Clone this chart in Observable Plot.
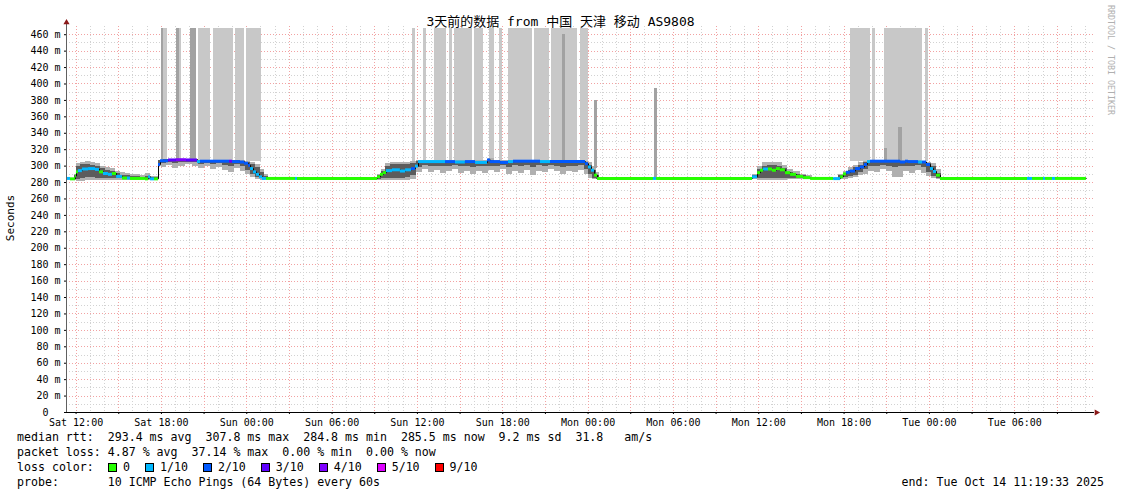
<!DOCTYPE html>
<html><head><meta charset="utf-8">
<script src="https://cdn.jsdelivr.net/npm/d3@7"></script>
<script src="https://cdn.jsdelivr.net/npm/@observablehq/plot@0.6"></script>
<style>
body{margin:0;background:#fff;}
#wrap{position:relative;width:1121px;height:494px;overflow:hidden;background:#fff;font-family:"DejaVu Sans Mono","Noto Sans CJK SC",monospace;}
#chart{position:absolute;left:0;top:0;}
.t{position:absolute;white-space:pre;line-height:1;color:#000;}
.leg{font-size:11.6px;left:17px;}
.sq{display:inline-block;box-sizing:border-box;width:9px;height:9px;border:1px solid #000;vertical-align:-1px;margin-right:6px;}
.item{display:inline-block;padding-right:15px;}
</style></head><body><div id="wrap"><div id="chart"></div></div>
<script>
// ---------- data ----------
const chartTitle = "3天前的数据 from 中国 天津 移动 AS9808";
const yLabel = "Seconds";
const watermark = "RRDTOOL / TOBI OETIKER";
const chartStartParts = [2025, 9, 11, 11, 19, 33]; // Sat Oct 11 2025 11:19:33
const chartEndParts = [2025, 9, 14, 11, 19, 33];   // Tue Oct 14 2025 11:19:33
const dataEndHour = 71.71;
const yMax = 470;
const highTop = 468;

const lossColors = ["#26ff00", "#00b8ff", "#0059ff", "#5e00ff", "#7e00ff", "#dd00ff", "#ff0000"];
const lossLabels = ["0", "1/10", "2/10", "3/10", "4/10", "5/10", "9/10"];

// median rtt: [hours since start, ms, loss class]
const medianRtt = [
 [0.00,285,1],[0.28,284.5,0],[0.63,288,0],[0.70,293,0],[0.84,294.5,1],[1.12,296.5,1],[1.55,297,1],
 [2.04,296,1],[2.32,293,0],[2.60,291,1],[2.95,290,1],[3.23,291,0],[3.52,287.5,1],[3.94,285.5,0],
 [4.29,285.5,1],[4.50,285,0],[5.55,284.5,0],[5.77,287,1],[5.91,284.5,1],[6.19,284.5,0],
 [6.47,302,2],[6.61,306.5,2],[7.17,307.5,3],[7.73,307.8,4],[8.44,307.5,3],[9.21,305.5,1],[9.42,306,2],
 [11.46,306,3],[11.67,305.5,2],[12.23,305,2],[12.52,303.5,2],[12.80,301,2],[12.94,297,1],[13.15,293,1],
 [13.36,290,1],[13.57,287,1],[13.78,285,1],[14.06,285,0],[16.10,285,1],[16.24,285,0],
 [21.87,287,0],[22.08,290,0],[22.29,292,0],[22.50,294.5,1],[22.92,295.5,1],[23.48,294,1],[23.84,295.5,1],
 [24.26,297,2],[24.54,300,1],[24.75,305.5,1],[26.65,305.5,2],[27.35,305,1],[28.05,305.5,2],[28.76,304.5,1],
 [29.60,307.5,2],[29.81,305.5,2],[30.52,304.5,2],[31.08,305.5,1],[31.43,306,2],[33.33,305.5,1],[34.03,305.5,2],
 [36.49,303,2],[36.70,299,1],[36.91,295,1],[37.13,289,0],[37.34,285,0],[41.27,285,1],[41.49,285,0],
 [48.24,287,1],[48.59,292,0],[48.80,295,0],[49.01,296.5,1],[49.36,296.5,0],[49.64,295,0],[49.92,297,0],
 [50.20,295.5,0],[50.55,292,0],[50.91,290,0],[51.33,287.5,0],[51.82,286,0],[52.32,285,0],[53.94,284.8,1],
 [54.43,287,0],[54.63,290.5,0],[54.84,292.5,2],[55.12,294,2],[55.48,297,2],[55.83,299,2],[56.11,302,2],
 [56.32,305.5,1],[56.53,306,2],[58.64,305,2],[58.99,306,2],[59.20,305.5,2],[59.91,305,1],[60.19,305,2],
 [60.47,302,2],[60.75,297,1],[60.96,293.5,1],[61.17,289,0],[61.45,285,0],[67.57,285,1],[67.92,285,0],
 [68.70,285,1],[68.84,285,0],[69.33,285,1],[69.54,285,0]
];

// smoke: [h1, h2, outer lo, outer hi, core lo, core hi]
const smoke = [
 [0.56,0.70,283,290,284,288],[0.70,0.98,281,303,284,299],[0.98,1.34,281,305,285,302],[1.34,1.69,282,306,286,302],
 [1.69,2.04,282,305,286,301],[2.04,2.39,282,303,285,300],[2.39,2.74,283,300,285,297],[2.74,3.09,283,298,285,295],
 [3.09,3.45,283,297,285,294],[3.45,3.80,283,294,285,291],[3.80,4.15,283,292,284.5,289],[4.15,4.50,283,291,284.5,288],
 [4.50,5.20,283,290,284,287],[5.20,5.55,283.5,288,284,286],[5.55,5.91,283,291,284,287],[5.91,6.47,283.5,287,284,286],
 [6.47,6.68,299,307,302,307],[6.68,7.03,298,308,303,308],[7.03,7.45,301,308,304,308],[7.45,7.88,297,308,303,308],
 [7.88,8.37,300,308,304,308],[8.37,8.86,302,308,305,308],[8.86,9.28,300,308,304,308],[9.28,9.70,297,307,302,307],
 [9.70,10.13,299,307,303,307],[10.13,10.55,296,307,302,307],[10.55,10.97,298,307,303,307],[10.97,11.39,295,307,301,307],
 [11.39,11.81,292,307,300,307],[11.81,12.23,297,307,302,307],[12.23,12.59,294,307,300,306],[12.59,12.94,290,306,295,305],
 [12.94,13.29,286,305,290,302],[13.29,13.64,284,302,286,298],[13.64,13.92,283,296,285,292],[13.92,14.20,283.5,290,284,287],
 [21.87,22.15,283,290,284,288],[22.15,22.43,283,296,285,293],[22.43,22.78,283,303,285,300],[22.78,23.13,282.5,305,285,302],
 [23.13,23.48,282.5,305,285,302],[23.48,23.84,283,305,285.5,302],[23.84,24.19,283,305,286,302],[24.19,24.61,284,306,288,303],
 [24.61,25.03,292,307,298,306],[25.03,25.45,296,307,301,306],[25.45,25.87,292,307,299,306],[25.87,26.30,295,307,300,306],
 [26.30,26.72,291,307,299,306],[26.72,27.14,294,307,300,306],[27.14,27.56,296,307,301,306],[27.56,27.98,291,307,299,306],
 [27.98,28.41,293,307,300,306],[28.41,28.83,290,307,298,306],[28.83,29.25,294,307,300,306],[29.25,29.67,291,307,299,306],
 [29.67,30.09,295,309,300,307],[30.09,30.52,292,307,299,306],[30.52,30.94,296,307,301,306],[30.94,31.36,290,307,298,306],
 [31.36,31.78,294,307,301,306],[31.78,32.20,291,307,299,306],[32.20,32.63,295,307,301,306],[32.63,33.05,289,307,298,306],
 [33.05,33.47,294,307,301,306],[33.47,33.89,292,307,300,306],[33.89,34.31,296,307,301,306],[34.31,34.73,293,307,300,306],
 [34.73,35.16,290,307,298,306],[35.16,35.58,294,307,300,306],[35.58,36.00,292,307,300,306],[36.00,36.42,295,307,301,306],
 [36.42,36.70,290,306,296,305],[36.70,36.99,285,304,290,301],[36.99,37.27,283.5,300,285,295],[37.27,37.48,283.5,292,284,288],
 [48.24,48.59,283.5,290,284.5,288],[48.59,48.94,283,300,285,296],[48.94,49.29,283,304,285,300],[49.29,49.64,283,305,285.5,301],
 [49.64,49.99,283,305,285.5,301],[49.99,50.34,283,304,285,300],[50.34,50.70,283,301,285,297],[50.70,51.12,283.5,296,285,292],
 [51.12,51.61,283.5,293,284.5,290],[51.61,52.03,283.5,290,284.5,288],[52.03,52.46,284,288,284.5,286.5],
 [54.28,54.63,284,290,284.5,288],[54.63,54.98,284,294,286,291],[54.98,55.33,285,298,287,295],[55.33,55.69,286,301,289,298],
 [55.69,56.04,288,304,292,301],[56.04,56.39,290,306,296,304],[56.39,56.81,294,307,300,306],[56.81,57.24,292,307,299,306],
 [57.24,57.66,296,307,301,306],[57.66,58.08,293,307,300,306],[58.08,58.50,286.5,307,298,306],[58.50,58.85,286,307,299,306],
 [58.85,59.27,294,307,300,306],[59.27,59.70,291,307,299,306],[59.70,60.12,295,307,301,306],[60.12,60.47,291,306,298,305],
 [60.47,60.82,287,305,292,303],[60.82,61.17,284.5,303,287,299],[61.17,61.52,283.5,296,284.5,291]
];

// pings far above the graph top: [h1, h2]
const highSmoke = [
 [6.68,7.07],[7.70,8.09],[8.72,9.14],[9.28,10.13],[10.34,11.74],[11.88,12.52],[12.69,13.71],
 [24.33,24.54],[25.07,25.28],[25.88,26.72],[26.90,27.11],[27.28,28.55],[28.69,29.32],[29.71,30.09],
 [30.45,30.66],[31.08,32.77],[32.91,33.93],[34.10,35.93],[36.14,36.70],
 [55.12,56.53],[56.64,56.88],[57.55,60.19],[60.40,60.61]
];
// denser high pings: [h1, h2, lo, hi]
const highCore = [
 [6.68,6.82,306,468],[7.73,7.94,307,468],[8.72,9.14,307,468],[34.84,35.09,306,460],
 [37.13,37.34,297,380],[41.31,41.52,286,395],[57.55,57.73,306,322],[58.50,58.75,306,347]
];

const statLines = [
 "median rtt:  293.4 ms avg  307.8 ms max  284.8 ms min  285.5 ms now  9.2 ms sd  31.8   am/s",
 "packet loss: 4.87 % avg  37.14 % max  0.00 % min  0.00 % now"
];
const probeText = "probe:       10 ICMP Echo Pings (64 Bytes) every 60s";
const endText = "end: Tue Oct 14 11:19:33 2025";

// ---------- build ----------
const chartStart = new Date(...chartStartParts);
const chartEnd = new Date(...chartEndParts);
const T = h => new Date(chartStart.getTime() + h * 3600e3);

const hourTicks = d3.timeHour.range(d3.timeHour.ceil(chartStart), chartEnd);
const minorX = hourTicks.filter(d => d.getHours() % 3 !== 0);
const majorX = hourTicks.filter(d => d.getHours() % 3 === 0);
const labelX = hourTicks.filter(d => d.getHours() % 6 === 0);
const yTicks = d3.range(0, 461, 20);
const minorY = d3.range(10, 461, 20);
const majorY = d3.range(20, 461, 20);

const medRows = medianRtt.map(([h, v, l], i) => ({
  t1: T(h), t2: T(i + 1 < medianRtt.length ? medianRtt[i + 1][0] : dataEndHour), v, c: lossColors[l]
}));
const stepPts = medRows.map(d => ({t: d.t1, v: d.v})).concat([{t: T(dataEndHour), v: medRows[medRows.length - 1].v}]);

const grayGrid = "#d2d2d2", redGrid = "#f2a2a2";
const svg = Plot.plot({
  width: 1121, height: 432,
  marginLeft: 66, marginRight: 31, marginTop: 26, marginBottom: 20,
  style: {fontFamily: "DejaVu Sans Mono", fontSize: "10px", background: "#fff", color: "#000"},
  x: {type: "time", domain: [chartStart, chartEnd]},
  y: {domain: [0, yMax]},
  color: {type: "identity"},
  marks: [
    Plot.ruleX(minorX, {x: d => d, stroke: grayGrid, strokeDasharray: "1,2", shapeRendering: "crispEdges"}),
    Plot.ruleY(minorY, {y: d => d, stroke: grayGrid, strokeDasharray: "1,2", insetRight: -3, shapeRendering: "crispEdges"}),
    Plot.ruleX(majorX, {x: d => d, stroke: redGrid, strokeDasharray: "1,2", shapeRendering: "crispEdges"}),
    Plot.ruleY(majorY, {y: d => d, stroke: redGrid, strokeDasharray: "1,2", insetRight: -3, shapeRendering: "crispEdges"}),
    Plot.rect(highSmoke, {x1: d => T(d[0]), x2: d => T(d[1]), y1: 306, y2: highTop, fill: "#c8c8c8", shapeRendering: "crispEdges"}),
    Plot.rect(smoke, {x1: d => T(d[0]), x2: d => T(d[1]), y1: d => d[2], y2: d => d[3], fill: "#b0b0b0", shapeRendering: "crispEdges"}),
    Plot.rect(smoke, {x1: d => T(d[0]), x2: d => T(d[1]), y1: d => d[4], y2: d => d[5], fill: "#5c5c5c", shapeRendering: "crispEdges"}),
    Plot.rect(highCore, {x1: d => T(d[0]), x2: d => T(d[1]), y1: d => d[2], y2: d => d[3], fill: "#a2a2a2", shapeRendering: "crispEdges"}),
    Plot.line(stepPts, {x: "t", y: "v", curve: "step-after", stroke: "#000", strokeWidth: 1}),
    Plot.ruleY(medRows, {y: "v", x1: "t1", x2: "t2", stroke: "c", strokeWidth: 3}),
    Plot.ruleX([chartStart], {x: d => d, stroke: "#606060", insetTop: -4}),
    Plot.ruleY([0], {y: d => d, stroke: "#000", insetRight: -4}),
    Plot.axisX({ticks: majorX, tickSize: 2, tickFormat: () => "", label: null, stroke: "#000"}),
    Plot.axisX({ticks: labelX, tickSize: 0, tickPadding: 6, tickFormat: d3.timeFormat("%a %H:%M"), label: null}),
    Plot.axisY({ticks: yTicks, tickSize: 2, tickPadding: 4, tickFormat: d => d === 0 ? "0\u00a0\u00a0" : d + " m", label: null}),
    Plot.dot([chartStart], {x: d => d, y: yMax, symbol: "triangle", r: 2.3, fill: "#8b1a1a", stroke: "none", dy: -4}),
    Plot.dot([chartEnd], {x: d => d, y: 0, symbol: "triangle", rotate: 90, r: 2.3, fill: "#8b1a1a", stroke: "none", dx: 6})
  ]
});
document.getElementById("chart").appendChild(svg);

// ---------- texts ----------
const wrap = document.getElementById("wrap");
function addText(txt, css, cls) {
  const el = document.createElement("div");
  el.className = "t " + (cls || "");
  el.textContent = txt;
  Object.assign(el.style, css);
  wrap.appendChild(el);
  return el;
}
addText(chartTitle, {left: "0px", width: "1121px", textAlign: "center", top: "15px", fontSize: "13px"});
addText(yLabel, {left: "10px", top: "218px", fontSize: "11px", transform: "translate(-50%,-50%) rotate(-90deg)"});
addText(watermark, {left: "1111px", top: "60px", fontSize: "8.3px", color: "#b0b0b0", transform: "translate(-50%,-50%) rotate(90deg)"});
addText(statLines[0], {top: "432px"}, "leg");
addText(statLines[1], {top: "447px"}, "leg");
const lc = addText("loss color:", {top: "462px"}, "leg");
const items = document.createElement("span");
items.style.position = "absolute"; items.style.left = "91px"; items.style.top = "0px";
lossLabels.forEach((lab, i) => {
  const it = document.createElement("span"); it.className = "item";
  const sq = document.createElement("span"); sq.className = "sq"; sq.style.background = lossColors[i];
  it.appendChild(sq); it.appendChild(document.createTextNode(lab));
  items.appendChild(it);
});
lc.appendChild(items);
addText(probeText, {top: "477px"}, "leg");
addText(endText, {top: "477px", left: "auto", right: "17px"}, "leg");
</script></body></html>
